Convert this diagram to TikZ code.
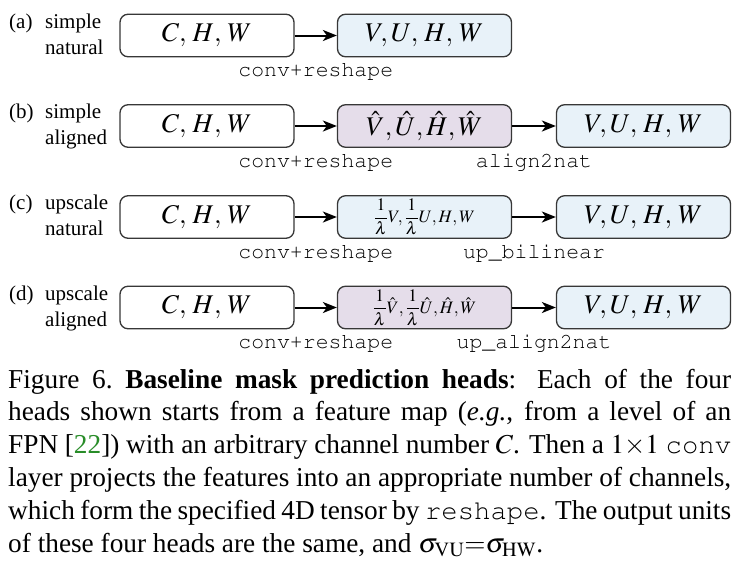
\documentclass[tikz,border=0pt]{standalone}
\usepackage{amsmath}
\usepackage{mathptmx}
\usepackage[T1]{fontenc}
\usepackage[no-math]{fontspec}
\setmainfont{Liberation Serif}
\newcommand{\cour}{\fontencoding{T1}\fontfamily{pcr}\selectfont}
\newcommand{\courtext}[1]{{\cour #1}}
\usetikzlibrary{arrows.meta,calc}
\definecolor{natfill}{RGB}{232,242,249}
\definecolor{alignfill}{RGB}{229,221,234}
\definecolor{boxborder}{RGB}{55,55,55}
\definecolor{citegreen}{RGB}{40,140,40}
\begin{document}
\begin{tikzpicture}[x=1pt,y=-1pt,
  tensor/.style={draw=boxborder, line width=1.3pt, rounded corners=8pt,
    minimum width=174pt, minimum height=42.5pt, inner sep=0pt,
    font=\fontsize{27}{30}\selectfont},
  inbox/.style={tensor, fill=white},
  natbox/.style={tensor, fill=natfill},
  alignbox/.style={tensor, fill=alignfill},
  smallmath/.style={font=\fontsize{17.5}{20}\selectfont},
  flow/.style={-{Stealth[length=14pt,width=11pt,inset=4pt]}, line width=2pt},
  oplabel/.style={font=\fontsize{21.5}{24}\selectfont\cour, anchor=center, inner sep=0pt},
  rowlabel/.style={font=\fontsize{21}{26}\selectfont, anchor=base west, inner sep=0pt},
  capline/.style={anchor=base west, inner sep=0pt, font=\fontsize{27.3}{33}\selectfont}
]
\useasboundingbox (0,0) rectangle (746,563);

% ---- row (a)
\node[rowlabel] (la) at (9,28) {(a)};
\node[rowlabel] (la1) at (45,28) {simple};
\node[rowlabel] (la2) at (45,54) {natural};
\node[inbox] (a1) at (207,35.5) {$C,\, H,\, W$};
\node[natbox] (a2) at (424.5,35.5) {$V,U,\, H,\, W$};
\draw[flow] (a1) -- (a2);
\node[oplabel] (oa1) at ($(a1.east)!0.5!(a2.west)+(0,36)$) {conv+reshape};

% ---- row (b)
\node[rowlabel] (lb) at (9,118.5) {(b)};
\node[rowlabel] (lb1) at (45,118.5) {simple};
\node[rowlabel] (lb2) at (45,144.5) {aligned};
\node[inbox] (b1) at (207,126) {$C,\, H,\, W$};
\node[alignbox] (b2) at (424.5,126) {$\hat{V}, \hat{U}, \hat{H}, \hat{W}$};
\node[natbox] (b3) at (643.5,126) {$V,U,\, H,\, W$};
\draw[flow] (b1) -- (b2);
\draw[flow] (b2) -- (b3);
\node[oplabel] (ob1) at ($(b1.east)!0.5!(b2.west)+(0,36)$) {conv+reshape};
\node[oplabel] (ob2) at ($(b2.east)!0.5!(b3.west)+(0,36)$) {align2nat};

% ---- row (c)
\node[rowlabel] (lc) at (9,209.5) {(c)};
\node[rowlabel] (lc1) at (45,209.5) {upscale};
\node[rowlabel] (lc2) at (45,235.5) {natural};
\node[inbox] (c1) at (207,217) {$C,\, H,\, W$};
\node[natbox, smallmath] (c2) at (424.5,217) {$\dfrac{1}{\lambda}V, \dfrac{1}{\lambda}U, H, W$};
\node[natbox] (c3) at (643.5,217) {$V,U,\, H,\, W$};
\draw[flow] (c1) -- (c2);
\draw[flow] (c2) -- (c3);
\node[oplabel] (oc1) at ($(c1.east)!0.5!(c2.west)+(0,36)$) {conv+reshape};
\node[oplabel] (oc2) at ($(c2.east)!0.5!(c3.west)+(0,36)$) {up\_bilinear};

% ---- row (d)
\node[rowlabel] (ld) at (9,300) {(d)};
\node[rowlabel] (ld1) at (45,300) {upscale};
\node[rowlabel] (ld2) at (45,326) {aligned};
\node[inbox] (d1) at (207,307.5) {$C,\, H,\, W$};
\node[alignbox, smallmath] (d2) at (424.5,307.5) {$\dfrac{1}{\lambda}\hat{V}, \dfrac{1}{\lambda}\hat{U}, \hat{H}, \hat{W}$};
\node[natbox] (d3) at (643.5,307.5) {$V,U,\, H,\, W$};
\draw[flow] (d1) -- (d2);
\draw[flow] (d2) -- (d3);
\node[oplabel] (od1) at ($(d1.east)!0.5!(d2.west)+(0,36)$) {conv+reshape};
\node[oplabel] (od2) at ($(d2.east)!0.5!(d3.west)+(0,36)$) {up\_align2nat};

% ---- caption
\node[capline] (cap1) at (8,388) {\makebox[723pt][s]{Figure 6.\ \textbf{Baseline mask prediction heads}: Each of the four}};
\node[capline] (cap2) at (8,420.8) {\makebox[723pt][s]{heads shown starts from a feature map (\textit{e.g.}, from a level of an}};
\node[capline] (cap3) at (8,453.6) {\makebox[723pt][s]{FPN [\textcolor{citegreen}{22}]) with an arbitrary channel number $C$. Then a $1{\times}1$ \courtext{conv}}};
\node[capline] (cap4) at (8,486.4) {\makebox[723pt][s]{layer projects the features into an appropriate number of channels,}};
\node[capline] (cap5) at (8,519.2) {\makebox[723pt][s]{which form the specified 4D tensor by \courtext{reshape}. The output units}};
\node[capline] (cap6) at (8,552) {of these four heads are the same, and $\sigma_{\mathrm{VU}}{=}\sigma_{\mathrm{HW}}$.};
\end{tikzpicture}
\end{document}
